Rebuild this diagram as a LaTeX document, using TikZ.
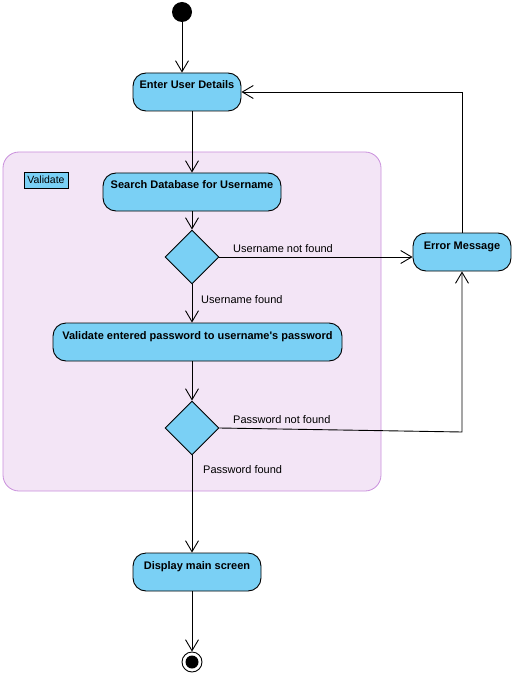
\documentclass[tikz,border=0pt]{standalone}
\usepackage{fontspec}
\setmainfont{Liberation Sans}
\usepackage{tikz}
\usetikzlibrary{shapes.geometric, arrows.meta, positioning}
\usepackage{xcolor}
\definecolor{actblue}{HTML}{7AD0F5}
\definecolor{partfill}{HTML}{F3E5F6}
\definecolor{partline}{HTML}{C98FDC}

\begin{document}
\begin{tikzpicture}[
    x=1pt, y=-1pt,
    action/.style={
        rectangle,
        draw=black,
        line width=0.9pt,
        fill=actblue,
        rounded corners=13pt,
        minimum height=38pt,
        inner ysep=4pt,
        text height=12pt,
        text depth=18pt,
        font=\fontsize{11}{13}\selectfont\bfseries
    },
    decision/.style={
        diamond,
        draw=black,
        line width=0.9pt,
        fill=actblue,
        inner sep=0pt,
        minimum width=54pt,
        minimum height=54pt
    },
    flow/.style={
        -{Straight Barb[length=11pt, width=13pt]},
        line width=0.9pt,
        color=black
    },
    guard/.style={
        anchor=west,
        inner sep=0pt,
        font=\fontsize{11}{13}\selectfont
    }
]
\useasboundingbox (0,0) rectangle (516,676);

% partition
\node[draw=partline, fill=partfill, line width=0.8pt, rounded corners=16pt,
      minimum width=378pt, minimum height=339pt] (region) at (192,321.5) {};
\node[draw=black, fill=actblue, line width=0.8pt, inner sep=1pt,
      minimum width=44pt, minimum height=16pt,
      font=\fontsize{10.5}{12}\selectfont] (regionlabel) at (46,180) {Validate};

\node[circle, fill=black, minimum size=20pt, inner sep=0pt] (start) at (182,12) {};

\node[action, minimum width=108pt] (enter)    at (187,92)    {Enter User Details};
\node[action, minimum width=178pt] (search)   at (192,192)   {Search Database for Username};
\node[decision]                    (userdec)  at (192,257)   {};
\node[action, minimum width=289pt] (validate) at (197.5,342) {Validate entered password to username\textquotesingle s password};
\node[decision]                    (passdec)  at (192,428)   {};
\node[action, minimum width=98pt]  (error)    at (462,252)   {Error Message};
\node[action, minimum width=128pt] (display)  at (197,572)   {Display main screen};

\node[circle, draw=black, fill=white, line width=0.9pt, minimum size=20pt, inner sep=0pt] (stop) at (192,662) {};
\fill[black] (stop) circle (6.5pt);

\coordinate (passcorner) at (462,432);

\draw[flow] (start) -- (start |- enter.north);
\draw[flow] (search.north |- enter.south) -- (search.north);
\draw[flow] (search) -- (userdec);
\draw[flow] (userdec) -- (userdec -| error.west);
\draw[flow] (userdec) -- (userdec |- validate.north);
\draw[flow] (validate.south -| passdec) -- (passdec);
\draw[flow] (passdec.east) -- (passcorner) -- (error.south);
\draw[flow] (passdec) -- (passdec |- display.north);
\draw[flow] (display.south -| stop) -- (stop);
\draw[flow] (error.north) |- (enter.east);

\node[guard] (lblusernot) at (233,249) {Username not found};
\node[guard] (lbluser)    at (201,300) {Username found};
\node[guard] (lblpassnot) at (233,420) {Password not found};
\node[guard] (lblpass)    at (203,470) {Password found};

\end{tikzpicture}
\end{document}
